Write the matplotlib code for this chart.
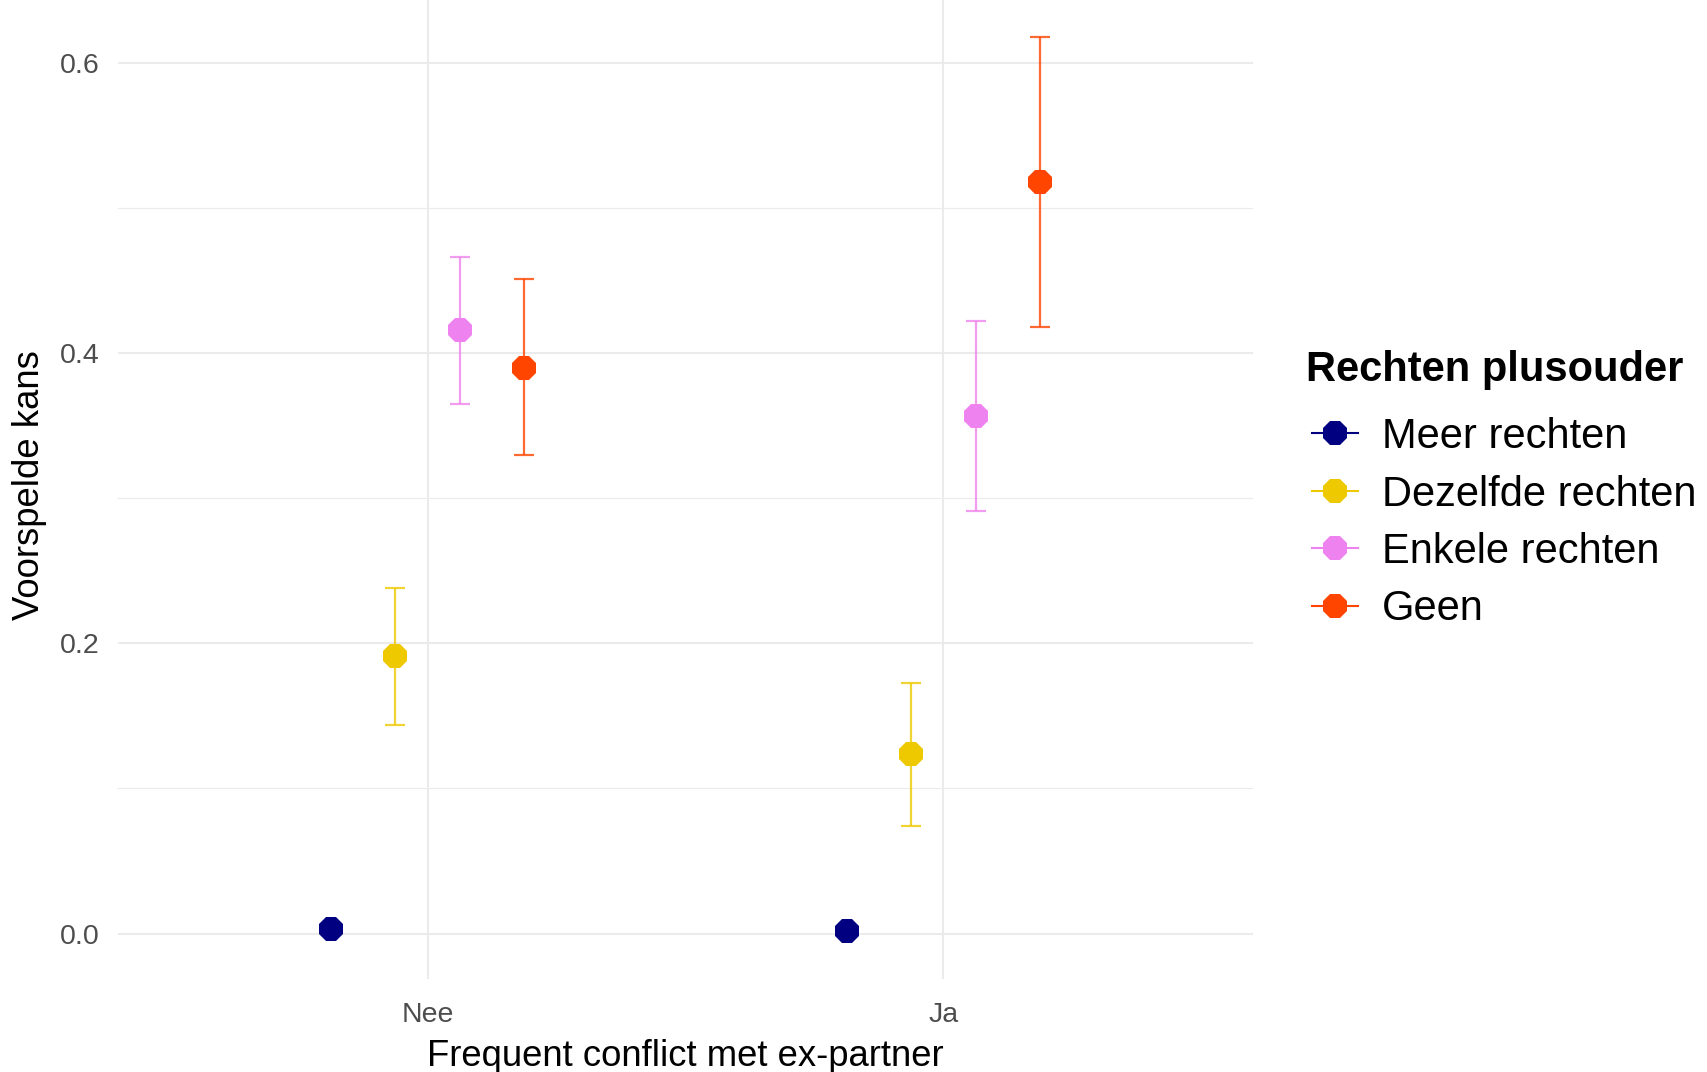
import matplotlib
matplotlib.use("Agg")
import matplotlib.pyplot as plt
from matplotlib.lines import Line2D
import numpy as np

plt.rcParams['font.family'] = ['Liberation Sans', 'DejaVu Sans']

conflict = ["Nee", "Ja"]
groups = ["Meer rechten", "Dezelfde rechten", "Enkele rechten", "Geen"]
colors = ["#000080", "#EEC900", "#EE82EE", "#FF4500"]
legend_title = "Rechten plusouder"

# predicted probability per group, for [Nee, Ja]
est = {
    "Meer rechten":     [0.003, 0.0015],
    "Dezelfde rechten": [0.191, 0.124],
    "Enkele rechten":   [0.416, 0.357],
    "Geen":             [0.390, 0.518],
}
lower = {
    "Meer rechten":     [0.001, 0.0005],
    "Dezelfde rechten": [0.144, 0.074],
    "Enkele rechten":   [0.365, 0.291],
    "Geen":             [0.330, 0.418],
}
upper = {
    "Meer rechten":     [0.006, 0.004],
    "Dezelfde rechten": [0.238, 0.173],
    "Enkele rechten":   [0.466, 0.422],
    "Geen":             [0.451, 0.618],
}

W, H = 1708, 1072
fig = plt.figure(figsize=(W / 100, H / 100), dpi=100)
ax = fig.add_axes([0.0691, 0.0872, 0.7336 - 0.0691, 1.0075 - 0.0872])

xbase = np.arange(1, len(conflict) + 1)
dodge = 0.5
n = len(groups)
handles = []
for i, (g, c) in enumerate(zip(groups, colors)):
    off = -dodge / 2 + dodge / n * (i + 0.5)
    x = xbase + off
    y = np.array(est[g])
    lo = np.array(lower[g])
    hi = np.array(upper[g])
    ax.errorbar(x, y, yerr=[y - lo, hi - y], fmt='none', ecolor=c,
                elinewidth=1.6, capsize=7.2, capthick=1.6, alpha=0.8, zorder=3)
    ax.plot(x, y, linestyle='none', marker='8', markersize=18, color=c,
            markeredgewidth=0, zorder=4)
    handles.append(Line2D([0], [0], color=c, lw=1.5, marker='8',
                          markersize=18, markeredgewidth=0))

ax.set_xlim(0.4, 2.6)
ax.set_ylim(-0.031, 0.649)
ax.set_xticks(xbase)
ax.set_xticklabels(conflict)
ax.set_yticks([0.0, 0.2, 0.4, 0.6])
ax.set_yticklabels(["0.0", "0.2", "0.4", "0.6"])
ax.set_yticks([0.1, 0.3, 0.5], minor=True)
ax.grid(True, which='major', color='#EBEBEB', lw=1.45, zorder=0)
ax.grid(True, which='minor', axis='y', color='#EBEBEB', lw=0.8, zorder=0)
ax.set_axisbelow(True)
for s in ax.spines.values():
    s.set_visible(False)
ax.tick_params(axis='both', which='both', length=0, labelsize=20.5, labelcolor='#4D4D4D')
ax.tick_params(axis='y', pad=13)
ax.tick_params(axis='x', pad=17)

ax.set_xlabel("Frequent conflict met ex-partner", fontsize=26.3, labelpad=7.5)
ax.set_ylabel("Voorspelde kans", fontsize=26.3, labelpad=9.6)

fig.text(1306 / W, 1 - 381 / H, legend_title, fontsize=30, fontweight='bold',
         ha='left', va='baseline')
leg = fig.legend(handles, groups,
                 loc='upper left', bbox_to_anchor=(1312 / W, 1 - 417 / H),
                 frameon=False, fontsize=30,
                 handlelength=1.1, handletextpad=0.58, labelspacing=0.42,
                 borderpad=0, borderaxespad=0)

fig.savefig("out.png", dpi=100)
